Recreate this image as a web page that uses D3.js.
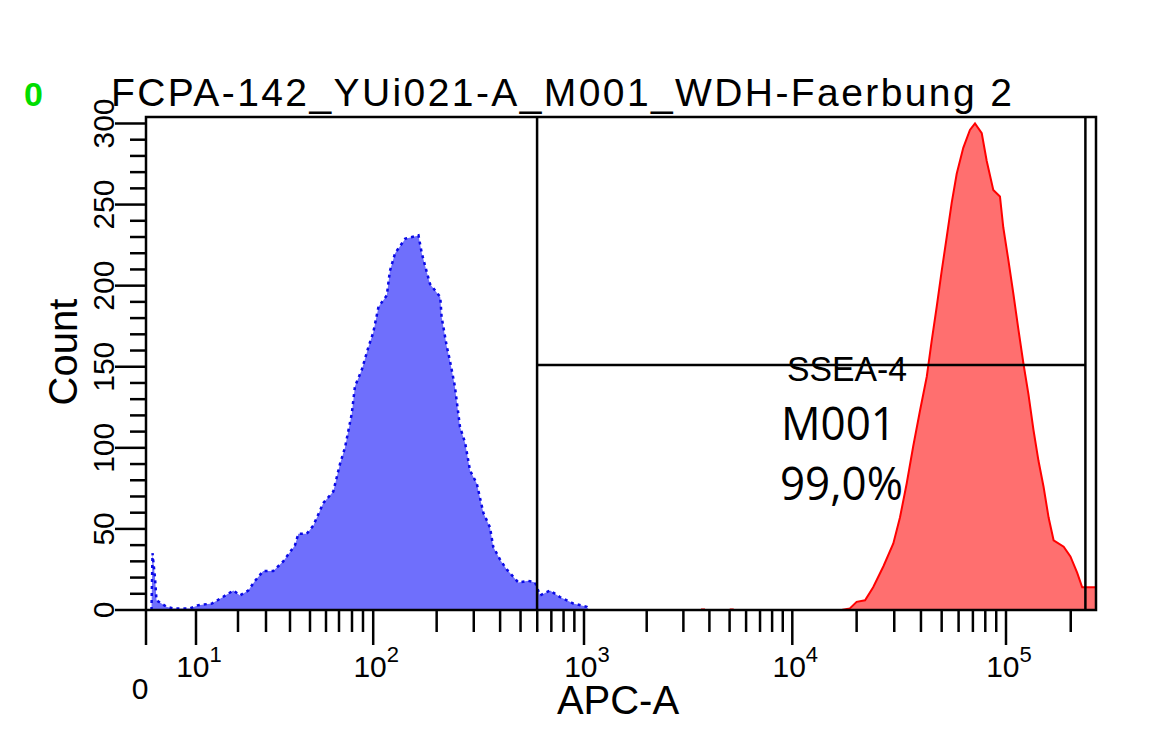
<!DOCTYPE html>
<html>
<head>
<meta charset="utf-8">
<script src="https://cdn.jsdelivr.net/npm/d3@7"></script>
<style>
body { margin: 0; background: #fff; }
</style>
</head>
<body>
<div id="chart"></div>
<script>
// histogram data, APC-A intensity vs count
// control (blue)
const blueApc = [1.1, 1.3, 1.8, 2.1, 4.1, 5.4, 8.8, 10.4, 13.0, 14.9, 18.5, 20.6, 23.2, 25.6, 28.8, 32.7, 36.9,
  42.3, 43.9, 48.2, 51.9, 58.2, 65.4, 70.7, 74.4, 79.8, 82.6, 88.8, 95.1, 100, 106, 116, 120, 127, 142, 164, 170,
  179, 186, 208, 211, 223, 231, 244, 258, 273, 288, 310, 333, 358, 371, 400, 430, 488, 544, 586, 619,
  690, 769, 890, 1030, 1060];
const blueCount = [0, 35, 20, 6, 2, 1, 1, 3, 4, 7, 12, 9, 12, 18, 24, 24, 30,
  40, 47, 47, 52, 66, 73, 90, 100, 121, 138, 148, 162, 171, 187, 194, 209, 220, 229, 231, 220,
  209, 201, 193, 181, 163, 154, 138, 113, 103, 86, 78, 60, 51, 39, 31, 25, 17, 18, 17, 9,
  12, 8, 4, 2, 0];
// SSEA-4 stained (red)
const redApc = [17000, 18600, 20000, 21900, 23900, 26700, 29700, 31900, 34300, 36800, 39600, 42600,
  44900, 47400, 50000, 52800, 55700, 58800, 63100, 67800, 71600, 77000, 81200, 87200,
  93700, 97100, 102500, 108200, 114200, 120500, 127200, 134200, 141600, 149500, 157800,
  166500, 185400, 199300, 214200, 226100, 256200, 262144];
const redCount = [0, 1, 5, 6, 14, 27, 41, 57, 78, 101, 123, 144,
  166, 187, 209, 230, 251, 269, 285, 296, 300, 294, 277, 259,
  255, 236, 216, 195, 173, 152, 133, 111, 92, 76, 57,
  43, 39, 33, 23, 14, 14, 14];
const redSpeckApc = [3726, 5118];
const redSpeckCount = [1, 1];

// marker M001 (SSEA-4)
const gateApc = [599, 234000];
const gateCount = 151;

// ticks
const xMajor = [0, 10, 100, 1000, 10000, 100000];
const xMajorExp = ["", "1", "2", "3", "4", "5"];
const xMinor = [20, 30, 40, 50, 60, 70, 80, 90, 200, 300, 400, 500, 600, 700, 800, 900,
  2000, 3000, 4000, 5000, 6000, 7000, 8000, 9000, 20000, 30000, 40000, 50000, 60000, 70000, 80000, 90000, 200000];
const yMajor = [0, 50, 100, 150, 200, 250, 300];
const yMinor = [10, 20, 30, 40, 60, 70, 80, 90, 110, 120, 130, 140, 160, 170, 180, 190,
  210, 220, 230, 240, 260, 270, 280, 290];

const W = 1164, H = 752;
const pL = 146, pR = 1096, pT = 117, pB = 610;

const svg = d3.select("#chart")
    .append("svg")
    .attr("width", W)
    .attr("height", H)
    .style("font-family", "'Liberation Sans', Arial, sans-serif");

// logicle-ish axis: linear up to 10, log above, 10..100 squeezed like the cytometer
const axisBreaks = [0, 10, 20, 30, 40, 50, 60, 70, 80, 90, 100, 1000, 10000, 100000, 262144];
const axisPixels = [pL, 196, 238, 266, 290, 310, 326, 339, 352, 363, 373.2, 584, 792.3, 1006, pR];
const tf = v => v <= 10 ? v / 10 : Math.log10(v);
const xs = d3.scaleLinear().domain(axisBreaks.map(tf)).range(axisPixels);
const x = v => xs(tf(v));
const y = d3.scaleLinear().domain([0, 304]).range([pB, pT]);

svg.append("clipPath").attr("id", "plot")
  .append("rect").attr("x", pL).attr("y", pT).attr("width", pR - pL).attr("height", pB - pT);

const area = d3.area().x(d => x(d[0])).y0(y(0)).y1(d => y(d[1]));
const line = d3.line().x(d => x(d[0])).y(d => y(d[1]));

const blue = d3.zip(blueApc, blueCount);
const red = d3.zip(redApc, redCount);

const g = svg.append("g").attr("clip-path", "url(#plot)");
g.append("path").datum(blue).attr("d", area).attr("fill", "#6f6ffc");
g.append("path").datum(blue).attr("d", line)
    .attr("fill", "none").attr("stroke", "#0a0ae6").attr("stroke-width", 2.5)
    .attr("stroke-dasharray", "3,4");
g.append("path").datum(red).attr("d", area).attr("fill", "#ff6f6f");
g.append("path").datum(red).attr("d", line)
    .attr("fill", "none").attr("stroke", "#ff0000").attr("stroke-width", 2);
g.selectAll(".speck").data(d3.zip(redSpeckApc, redSpeckCount)).join("rect")
    .attr("x", d => x(d[0]) - 2).attr("y", d => y(d[1]))
    .attr("width", 4).attr("height", d => y(0) - y(d[1]))
    .attr("fill", "#ff3030");

// gate lines
const gate = svg.append("g").attr("stroke", "#000").attr("stroke-width", 2.5);
gate.append("line").attr("x1", x(gateApc[0])).attr("x2", x(gateApc[0])).attr("y1", pT).attr("y2", pB);
gate.append("line").attr("x1", x(gateApc[1])).attr("x2", x(gateApc[1])).attr("y1", pT).attr("y2", pB);
gate.append("line").attr("x1", x(gateApc[0])).attr("x2", x(gateApc[1]))
    .attr("y1", y(gateCount)).attr("y2", y(gateCount));

// frame
svg.append("rect").attr("x", pL).attr("y", pT).attr("width", pR - pL).attr("height", pB - pT)
    .attr("fill", "none").attr("stroke", "#000").attr("stroke-width", 2.5);

// x ticks
svg.selectAll(".xmaj").data(xMajor).join("line")
    .attr("x1", d => x(d)).attr("x2", d => x(d)).attr("y1", pB).attr("y2", pB + 35)
    .attr("stroke", "#000").attr("stroke-width", 2.5);
svg.selectAll(".xmin").data(xMinor).join("line")
    .attr("x1", d => x(d)).attr("x2", d => x(d)).attr("y1", pB).attr("y2", pB + 22)
    .attr("stroke", "#000").attr("stroke-width", 2.5);

const xl = svg.selectAll(".xlab").data(xMajor.slice(1)).join("text")
    .attr("x", d => x(d) + 3).attr("y", 677)
    .attr("text-anchor", "middle").attr("font-size", 30);
xl.append("tspan").text("10");
xl.append("tspan").attr("dy", -15).attr("font-size", 22).text((d, i) => xMajorExp[i + 1]);
svg.append("text").attr("x", x(0) - 6).attr("y", 699).attr("text-anchor", "middle")
    .attr("font-size", 30).text("0");

// y ticks
svg.selectAll(".ymaj").data(yMajor).join("line")
    .attr("x1", pL - 31).attr("x2", pL).attr("y1", d => y(d)).attr("y2", d => y(d))
    .attr("stroke", "#000").attr("stroke-width", 2.5);
svg.selectAll(".ymin").data(yMinor).join("line")
    .attr("x1", pL - 16).attr("x2", pL).attr("y1", d => y(d)).attr("y2", d => y(d))
    .attr("stroke", "#000").attr("stroke-width", 2.5);
svg.selectAll(".ylab").data(yMajor).join("text")
    .attr("transform", d => `translate(114,${y(d)}) rotate(-90)`)
    .attr("text-anchor", "middle").attr("font-size", 30)
    .text(d => d);

// axis titles
svg.append("text").attr("transform", "translate(77,352) rotate(-90)")
    .attr("text-anchor", "middle").attr("font-size", 40).text("Count");
svg.append("text").attr("x", 618).attr("y", 714)
    .attr("text-anchor", "middle").attr("font-size", 40).text("APC-A");

// title
svg.append("text").attr("x", 24).attr("y", 106)
    .attr("font-size", 34).attr("font-weight", "bold").attr("fill", "#00dd00").text("0");
svg.append("text").attr("x", 111).attr("y", 106)
    .attr("font-size", 39).attr("textLength", 901).attr("lengthAdjust", "spacing")
    .text("FCPA-142_YUi021-A_M001_WDH-Faerbung 2");

// marker labels
svg.append("text").attr("x", 787).attr("y", 381)
    .attr("font-size", 35).attr("textLength", 120).attr("lengthAdjust", "spacingAndGlyphs")
    .text("SSEA-4");
svg.append("text").attr("x", 781).attr("y", 440)
    .attr("font-family", "'Open Sans', 'Noto Sans', sans-serif")
    .attr("font-size", 45).attr("textLength", 115).attr("lengthAdjust", "spacingAndGlyphs")
    .text("M001");
svg.append("text").attr("x", 780).attr("y", 500)
    .attr("font-family", "'Open Sans', 'Noto Sans', sans-serif")
    .attr("font-size", 45).attr("textLength", 123).attr("lengthAdjust", "spacingAndGlyphs")
    .text("99,0%");
</script>
</body>
</html>
